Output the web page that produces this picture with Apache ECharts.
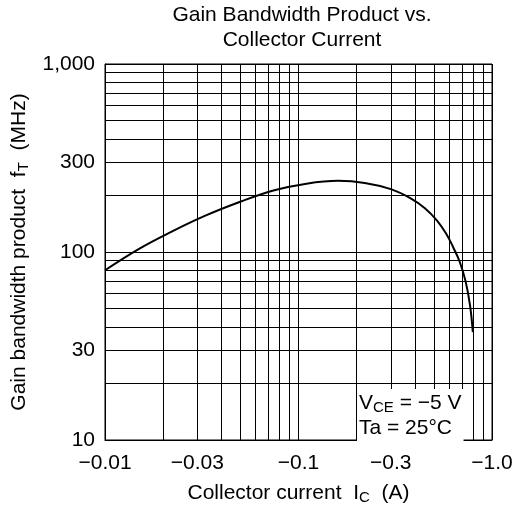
<!DOCTYPE html>
<html>
<head>
<meta charset="utf-8">
<script src="https://cdn.jsdelivr.net/npm/echarts@6/dist/echarts.min.js"></script>
<style>
  html, body { margin: 0; padding: 0; background: #fff; }
  #main { width: 527px; height: 510px; }
</style>
</head>
<body>
<div id="main"></div>
<script>
// Gain bandwidth product fT (MHz) vs collector current |IC| (A)
var currentA = [0.01, 0.015, 0.022, 0.033, 0.05, 0.075, 0.11, 0.16, 0.22, 0.3, 0.38, 0.45,
                0.52, 0.58, 0.63, 0.68, 0.73, 0.77, 0.796];
var gainMHz  = [80, 104, 128, 156, 185, 213, 231, 239, 233, 216, 193, 171,
                147, 125, 106, 89, 70, 52, 37.5];

// tick labels
var xLabelValues = [0.01, 0.03, 0.1, 0.3, 1];
var yLabelValues = [10, 30, 100, 300, 1000];

// log grid: every 1..9 step of each decade
var xDecades = [0.01, 0.1];
var yDecades = [10, 100];
var steps = [1, 2, 3, 4, 5, 6, 7, 8, 9];

function gridValues(decades, last) {
  var out = [];
  decades.forEach(function (d) {
    steps.forEach(function (s) { out.push(+(d * s).toPrecision(3)); });
  });
  out.push(last);
  return out;
}

var chart = echarts.init(document.getElementById('main'), null, { renderer: 'canvas' });
var font = 'Liberation Sans, Arial, sans-serif';

chart.setOption({
  animation: false,
  textStyle: { fontFamily: font },
  title: {
    text: 'Gain Bandwidth Product vs.\nCollector Current',
    left: 297,
    top: -2,
    textAlign: 'center',
    textStyle: { fontSize: 21, fontWeight: 'normal', color: '#000', lineHeight: 25, fontFamily: font }
  },
  grid: { left: 105, right: 35, top: 64, bottom: 68, show: true, borderColor: '#000', borderWidth: 1 },
  xAxis: {
    type: 'log',
    min: 0.01,
    max: 1,
    name: '{a|Collector current  I}{s|C}{a|  (A)}',
    nameLocation: 'middle',
    nameGap: 41,
    nameTextStyle: {
      rich: {
        a: { fontSize: 21, color: '#000', fontFamily: font },
        s: { fontSize: 15, color: '#000', fontFamily: font, padding: [9, 0, 0, 0] }
      }
    },
    axisLine: { lineStyle: { color: '#000' } },
    axisTick: { show: false, customValues: gridValues(xDecades, 1) },
    splitLine: { show: true, lineStyle: { color: '#000', width: 1 } },
    axisLabel: {
      customValues: xLabelValues,
      fontSize: 21,
      color: '#000',
      margin: 13,
      formatter: function (v) { return '\u2212' + (v >= 1 ? '1.0' : String(v)); }
    }
  },
  yAxis: {
    type: 'log',
    min: 10,
    max: 1000,
    name: '{a|Gain bandwidth product  f}{s|T}{a|  (MHz)}',
    nameLocation: 'middle',
    nameGap: 70,
    nameTextStyle: {
      rich: {
        a: { fontSize: 21, color: '#000', fontFamily: font },
        s: { fontSize: 15, color: '#000', fontFamily: font, padding: [9, 0, 0, 0] }
      }
    },
    axisLine: { lineStyle: { color: '#000' } },
    axisTick: { show: false, customValues: gridValues(yDecades, 1000) },
    splitLine: { show: true, lineStyle: { color: '#000', width: 1 } },
    axisLabel: {
      customValues: yLabelValues,
      fontSize: 21,
      color: '#000',
      margin: 10,
      padding: [7, 0, 0, 0],
      formatter: function (v) { return v >= 1000 ? '1,000' : String(v); }
    }
  },
  graphic: [{
    type: 'text',
    left: 357,
    top: 389,
    z: 10,
    style: {
      text: '{a|V}{s|CE}{a| = \u22125 V}\n{a|Ta = 25\u00b0C}',
      backgroundColor: '#fff',
      padding: [2, 2, 0, 2],
      rich: {
        a: { fontSize: 21, fill: '#000', fontFamily: font, lineHeight: 25 },
        s: { fontSize: 15, fill: '#000', fontFamily: font, padding: [8, 0, 0, 0], lineHeight: 25 }
      }
    }
  }],
  series: [{
    type: 'line',
    data: currentA.map(function (x, i) { return [x, gainMHz[i]]; }),
    showSymbol: false,
    smooth: 0.4,
    lineStyle: { color: '#000', width: 2 },
    z: 5
  }]
});
</script>
</body>
</html>
